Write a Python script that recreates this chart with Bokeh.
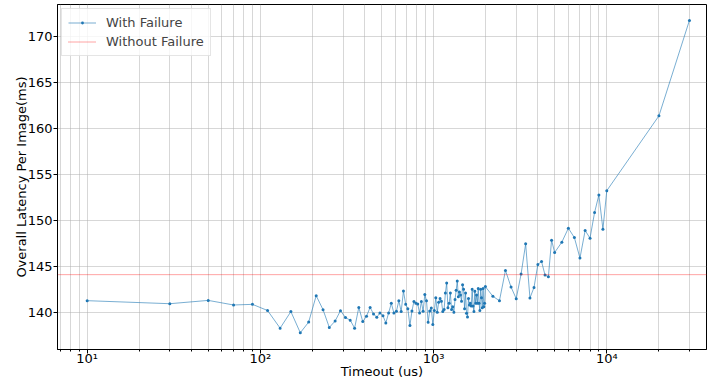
from bokeh.plotting import figure
from bokeh.models import Range1d, FixedTicker
from bokeh.embed import file_html
from bokeh.resources import INLINE

# ---- data ----
timeout_us = [
    10, 30, 50, 70, 90, 110, 130, 150, 170, 190,
    210, 230, 250, 270, 290, 310, 330, 350, 370, 390,
    410, 430, 450, 470, 490, 510, 530, 550, 570, 590,
    610, 630, 650, 670, 690, 710, 730, 750, 770, 790,
    810, 830, 850, 870, 890, 910, 930, 950, 970, 990,
    1010, 1030, 1050, 1070, 1090, 1110, 1130, 1150, 1170, 1190,
    1210, 1230, 1250, 1270, 1290, 1310, 1330, 1350, 1370, 1390,
    1410, 1430, 1450, 1470, 1490, 1510, 1530, 1550, 1570, 1590,
    1610, 1630, 1650, 1670, 1690, 1710, 1730, 1750, 1770, 1790,
    1810, 1830, 1850, 1870, 1890, 1910, 1930, 1950, 1970, 1990,
    2200, 2400, 2600, 2800, 3000, 3200, 3400, 3600, 3800, 4000,
    4200, 4400, 4600, 4800, 5000,
    5500, 6000, 6500, 7000, 7500, 8000, 8500, 9000, 9500, 10000,
    20000, 30000,
]
latency_with_failure = [
    141.27, 140.94, 141.30, 140.80, 140.87, 140.20, 138.28, 140.08, 137.78, 138.94,
    141.81, 140.29, 138.36, 139.05, 140.18, 139.43, 139.15, 138.28, 140.53, 139.00,
    139.58, 140.54, 139.82, 139.47, 139.93, 139.64, 138.85, 139.93, 140.98, 139.93,
    140.11, 141.27, 140.08, 142.32, 140.87, 140.40, 138.56, 140.15, 141.19, 141.00,
    140.90, 139.93, 141.19, 140.11, 141.95, 141.27, 138.92, 140.15, 140.48, 138.67,
    140.20, 141.60, 140.00, 141.10, 141.50, 141.20, 140.10, 140.30, 142.10, 143.20,
    140.50, 141.00, 142.10, 140.30, 140.60, 140.00, 141.40, 142.40, 143.40, 141.70,
    142.20, 141.90, 141.20, 143.00, 142.50, 140.40, 142.10, 139.90, 139.50, 141.50,
    140.80, 141.00, 140.70, 142.50, 140.70, 140.10, 142.30, 141.00, 141.90, 141.00,
    142.60, 141.00, 140.20, 142.50, 141.60, 140.50, 142.60, 140.60, 141.00, 142.80,
    141.74, 141.27, 144.56, 142.75, 141.49, 144.16, 147.45, 141.56, 142.71, 145.21,
    145.53, 144.05, 143.87, 147.85, 146.51,
    147.63, 149.15, 148.13, 145.90, 148.90, 148.07, 150.85, 152.77, 149.05, 153.23,
    161.37, 171.75,
]
latency_without_failure = 144.1

x_major_ticks = [10, 100, 1000, 10000]
x_tick_labels = ["10\u00b9", "10\u00b2", "10\u00b3", "10\u2074"]
y_ticks = [140, 145, 150, 155, 160, 165, 170]
x_title = "Timeout (us)"
y_title = "Overall Latency Per Image(ms)"

FONT = "DejaVu Sans"
BLUE = "#1f77b4"

x_range = Range1d(6.74, 37640)
p = figure(
    width=709, height=384,
    x_axis_type="log",
    x_range=x_range,
    y_range=Range1d(135.96, 173.48),
    output_backend="svg", toolbar_location=None,
    min_border_left=57, min_border_right=3, min_border_top=4, min_border_bottom=35,
)
p.background_fill_color = "white"
p.border_fill_color = "white"
p.outline_line_color = "black"
p.outline_line_width = 1

# grid
p.xgrid.ticker = FixedTicker(ticks=x_major_ticks,
                             minor_ticks=[m * 10 ** e for e in range(0, 5) for m in range(2, 10)])
p.xaxis.ticker = p.xgrid.ticker
p.xgrid.grid_line_color = "#b0b0b0"
p.xgrid.grid_line_alpha = 0.5
p.xgrid.minor_grid_line_color = "#b0b0b0"
p.xgrid.minor_grid_line_alpha = 0.5
p.yaxis.ticker = FixedTicker(ticks=y_ticks)
p.ygrid.ticker = p.yaxis.ticker
p.ygrid.grid_line_color = "#b0b0b0"
p.ygrid.grid_line_alpha = 0.5

p.xaxis.major_label_overrides = {t: lab for t, lab in zip(x_major_ticks, x_tick_labels)}

for ax in (p.xaxis, p.yaxis):
    ax.axis_line_color = "black"
    ax.major_tick_line_color = "black"
    ax.minor_tick_line_color = "black"
    ax.major_tick_in = 0
    ax.major_tick_out = 4
    ax.minor_tick_in = 0
    ax.minor_tick_out = 2
    ax.major_label_text_font = FONT
    ax.major_label_text_font_size = "13px"
    ax.major_label_text_color = "black"
    ax.axis_label_text_font = FONT
    ax.axis_label_text_font_size = "13px"
    ax.axis_label_text_font_style = "normal"
    ax.axis_label_text_color = "black"
    ax.major_label_standoff = 1
    ax.axis_label_standoff = 1
p.xaxis.major_label_standoff = -3
p.xaxis.axis_label_standoff = -5
p.yaxis.axis_label_standoff = -4
p.yaxis.minor_tick_line_color = None
p.xaxis.axis_label = x_title
p.yaxis.axis_label = y_title

# series
p.line(timeout_us, latency_with_failure, line_color=BLUE, line_width=0.6,
       legend_label="With Failure")
p.scatter(timeout_us, latency_with_failure, size=3, fill_color=BLUE, line_color=None,
          legend_label="With Failure")

# without-failure baseline spanning the whole axis (like axhline)
p.line(x=[x_range.start, x_range.end], y=[latency_without_failure] * 2,
       line_color="red", line_dash="1 1", line_width=0.8, line_alpha=0.9,
       legend_label="Without Failure")

lg = p.legend[0]
lg.location = "top_left"
lg.margin = 4
lg.padding = 6
lg.spacing = 4
lg.label_height = 15
lg.glyph_height = 7
lg.glyph_width = 28
lg.label_standoff = 10
lg.label_text_font = FONT
lg.label_text_font_size = "13px"
lg.border_line_color = "#cccccc"
lg.border_line_width = 1
lg.background_fill_alpha = 0.8

open("out.html", "w").write(file_html(p, INLINE))
